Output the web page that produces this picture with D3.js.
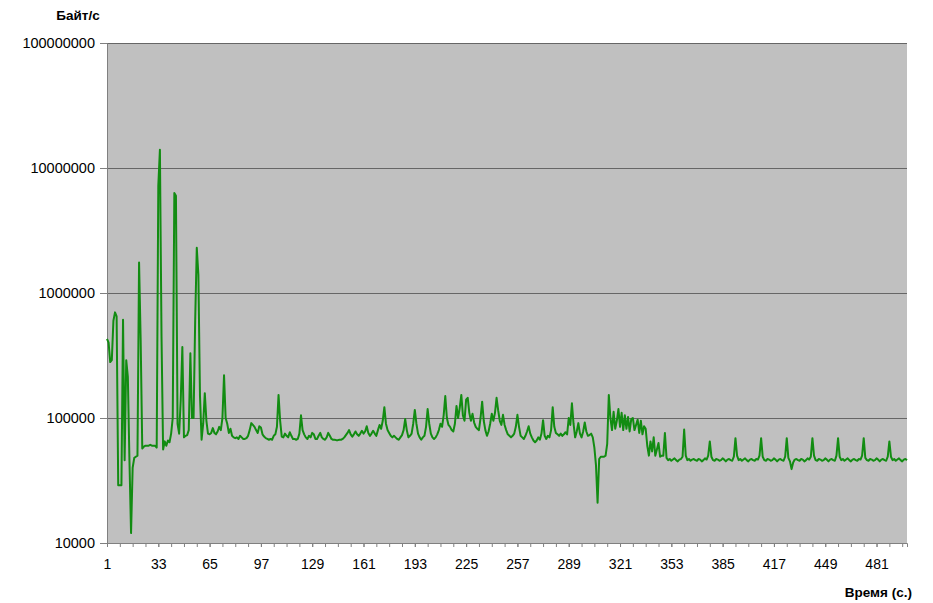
<!DOCTYPE html>
<html>
<head>
<meta charset="utf-8">
<script src="https://cdn.jsdelivr.net/npm/d3@7"></script>
<style>
  html, body { margin: 0; padding: 0; background: #ffffff; }
  svg { display: block; }
  text { font-family: "Liberation Sans", Arial, sans-serif; fill: #000; }
</style>
</head>
<body>
<svg id="chart" width="933" height="603"></svg>
<script>
// Throughput per second, bytes/s (one value per second, 500 seconds)
const bytesPerSecond = [
  430000, 400000, 280000, 290000, 600000, 700000, 650000, 29000, 29000, 29000,
  610000, 46000, 290000, 213000, 46000, 12000, 40000, 48000, 49000, 50000,
  1750000, 420000, 57000, 59000, 60000, 60000, 60000, 61000, 60000, 60000,
  60000, 58000, 7200000, 14000000, 450000, 56000, 65000, 60000, 66000, 64000,
  75000, 100000, 6300000, 6000000, 90000, 75000, 140000, 370000, 70000, 72000,
  73000, 80000, 330000, 100000, 100000, 600000, 2300000, 1400000, 150000, 67000,
  90000, 158000, 95000, 75000, 74000, 76000, 83000, 76000, 74000, 78000,
  85000, 80000, 100000, 220000, 100000, 90000, 76000, 82000, 72000, 70000,
  69000, 70000, 68000, 72000, 70000, 68000, 68000, 69000, 72000, 80000,
  91000, 88000, 85000, 80000, 76000, 86000, 84000, 74000, 71000, 69000,
  68000, 67000, 68000, 67000, 72000, 74000, 85000, 153000, 95000, 71000,
  70000, 75000, 72000, 70000, 77000, 72000, 68000, 68000, 67000, 68000,
  75000, 105000, 80000, 74000, 70000, 68000, 72000, 70000, 76000, 74000,
  68000, 68000, 72000, 76000, 70000, 68000, 67000, 70000, 76000, 72000,
  68000, 67000, 67000, 66500, 66500, 67000, 67000, 68000, 70000, 73000,
  76000, 80000, 74000, 71000, 74000, 78000, 74000, 72000, 75000, 79000,
  75000, 78000, 86000, 76000, 72000, 75000, 79000, 75000, 72000, 80000,
  88000, 82000, 95000, 122000, 90000, 80000, 76000, 72000, 70000, 72000,
  70000, 68000, 67000, 70000, 73000, 80000, 98000, 80000, 70000, 72000,
  75000, 90000, 116000, 90000, 75000, 70000, 67000, 70000, 72000, 85000,
  118000, 90000, 75000, 70000, 68000, 70000, 74000, 80000, 90000, 85000,
  105000, 150000, 100000, 88000, 85000, 80000, 78000, 90000, 125000, 100000,
  120000, 153000, 105000, 95000, 140000, 145000, 110000, 95000, 108000, 92000,
  85000, 82000, 80000, 100000, 135000, 95000, 80000, 72000, 78000, 90000,
  108000, 95000, 110000, 145000, 115000, 95000, 88000, 106000, 88000, 80000,
  74000, 72000, 70000, 72000, 75000, 85000, 106000, 85000, 72000, 70000,
  68000, 72000, 78000, 86000, 75000, 70000, 66000, 64000, 66000, 70000,
  67000, 75000, 96000, 72000, 68000, 72000, 70000, 80000, 122000, 85000,
  76000, 74000, 72000, 75000, 72000, 74000, 77000, 74000, 100000, 88000,
  131000, 90000, 70000, 78000, 91000, 75000, 70000, 78000, 92000, 78000,
  72000, 73000, 75000, 70000, 58000, 42000, 21000, 47000, 49000, 49000,
  49000, 50000, 62000, 153000, 100000, 80000, 112000, 82000, 95000, 118000,
  85000, 110000, 80000, 105000, 82000, 102000, 78000, 98000, 100000, 80000,
  88000, 97000, 76000, 95000, 74000, 86000, 82000, 60000, 50000, 65000,
  54000, 70000, 50000, 56000, 63000, 49000, 50000, 50000, 76000, 48000,
  46000, 47000, 45500, 46500, 47500, 46000, 45000, 46500, 47000, 49000,
  81000, 50000, 46000, 47000, 45500, 46500, 47000, 46000, 45500, 47000,
  46500, 45000, 46000, 47500, 46500, 50000, 65000, 49000, 46000, 45500,
  47000, 46500, 45500, 46000, 47500, 46500, 45000, 46500, 47000, 46000,
  45500, 49000, 69000, 50000, 46000, 47000, 45500, 46500, 47500, 46000,
  45000, 46500, 47000, 46000, 45500, 47000, 46500, 50000, 69000, 49000,
  46000, 45500, 47000, 46500, 45500, 46000, 47500, 46500, 45000, 46500,
  47000, 46000, 45500, 49000, 69000, 48000, 45000, 39000, 44000, 46500,
  47000, 46000, 45500, 47000, 46500, 45000, 46000, 47500, 46500, 49000,
  69000, 50000, 46000, 45500, 47000, 46500, 45500, 46000, 47500, 46500,
  45000, 46500, 47000, 46000, 45500, 50000, 69000, 49000, 46000, 47000,
  45500, 46500, 47500, 46000, 45000, 46500, 47000, 46000, 45500, 47000,
  46500, 50000, 69000, 48000, 46000, 45500, 47000, 46500, 45500, 46000,
  47500, 46500, 45000, 46500, 47000, 46000, 45500, 49000, 65000, 49000,
  46000, 47000, 45500, 46500, 47500, 46000, 45000, 46500, 47000, 46000
];

// Category axis: seconds 1..N
const seconds = bytesPerSecond.map((_, i) => i + 1);
const xTickLabels = [1, 33, 65, 97, 129, 161, 193, 225, 257, 289, 321, 353, 385, 417, 449, 481];
const xMinorStep = 8;
const yTickValues = [10000, 100000, 1000000, 10000000, 100000000];

const yTitle = "Байт/с";
const xTitle = "Время (с.)";

const plot = { left: 107, right: 907, top: 43, bottom: 543 };

const svg = d3.select("#chart");

const x = d3.scaleLinear()
  .domain([seconds[0], seconds[seconds.length - 1]])
  .range([plot.left, plot.right]);

const y = d3.scaleLog()
  .domain([yTickValues[0], yTickValues[yTickValues.length - 1]])
  .range([plot.bottom, plot.top]);

// Plot area background
svg.append("rect")
  .attr("x", plot.left)
  .attr("y", plot.top)
  .attr("width", plot.right - plot.left)
  .attr("height", plot.bottom - plot.top)
  .attr("fill", "#c0c0c0");

// Horizontal gridlines at each decade
svg.append("g")
  .selectAll("line")
  .data(yTickValues.slice(1))
  .join("line")
  .attr("x1", plot.left)
  .attr("x2", plot.right)
  .attr("y1", d => Math.round(y(d)) + 0.5)
  .attr("y2", d => Math.round(y(d)) + 0.5)
  .attr("stroke", "#666666")
  .attr("stroke-width", 1);

// Y axis (log, one label per decade)
const yAxis = d3.axisLeft(y)
  .tickValues(yTickValues)
  .tickFormat(d3.format("d"))
  .tickSize(7)
  .tickPadding(5);

const gy = svg.append("g")
  .attr("transform", `translate(${plot.left},0)`)
  .call(yAxis);
gy.select(".domain").attr("stroke", "#808080");
gy.selectAll(".tick line").attr("stroke", "#808080");
gy.selectAll(".tick text")
  .attr("font-size", 14.5)
  .attr("font-family", "Liberation Sans, Arial, sans-serif")
  .attr("fill", "#000");

// X axis: minor ticks every 8 seconds, labels every 32 seconds
const minorTicks = seconds.filter(s => (s - 1) % xMinorStep === 0);
const gxMinor = svg.append("g")
  .attr("transform", `translate(0,${plot.bottom})`)
  .call(d3.axisBottom(x).tickValues(minorTicks).tickSize(4).tickFormat(""));
gxMinor.select(".domain").attr("stroke", "#808080");
gxMinor.selectAll(".tick line").attr("stroke", "#808080");

const gx = svg.append("g")
  .attr("transform", `translate(0,${plot.bottom})`)
  .call(d3.axisBottom(x).tickValues(xTickLabels).tickSize(4).tickPadding(12).tickFormat(d3.format("d")));
gx.select(".domain").remove();
gx.selectAll(".tick line").attr("stroke", "#808080");
gx.selectAll(".tick text")
  .attr("font-size", 14)
  .attr("font-family", "Liberation Sans, Arial, sans-serif")
  .attr("fill", "#000");

// Throughput line
const line = d3.line()
  .x((d, i) => x(seconds[i]))
  .y(d => y(d));

svg.append("path")
  .datum(bytesPerSecond)
  .attr("d", line)
  .attr("fill", "none")
  .attr("stroke", "#128c12")
  .attr("stroke-width", 2)
  .attr("stroke-linejoin", "round");

// Axis titles
svg.append("text")
  .attr("x", 78)
  .attr("y", 20)
  .attr("text-anchor", "middle")
  .attr("font-size", 13.5)
  .attr("font-weight", "bold")
  .text(yTitle);

svg.append("text")
  .attr("x", 912)
  .attr("y", 597)
  .attr("text-anchor", "end")
  .attr("font-size", 13.5)
  .attr("font-weight", "bold")
  .text(xTitle);
</script>
</body>
</html>
